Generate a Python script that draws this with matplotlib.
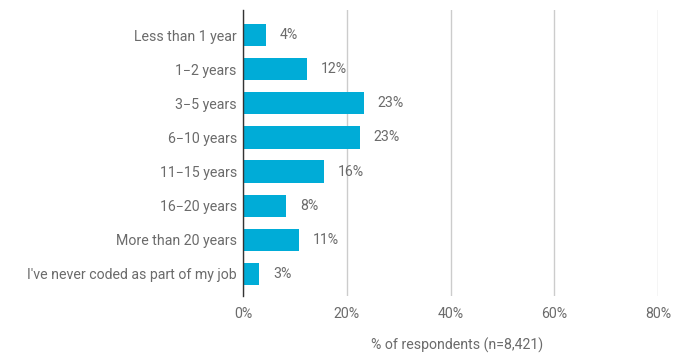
import matplotlib
matplotlib.use("Agg")
import matplotlib.pyplot as plt

categories = ["Less than 1 year", "1\u22122 years", "3\u22125 years", "6\u221210 years",
              "11\u221215 years", "16\u221220 years", "More than 20 years",
              "I've never coded as part of my job"]
values = [4.4, 12.3, 23.3, 22.5, 15.6, 8.3, 10.8, 3.1]
labels = ["4%", "12%", "23%", "23%", "16%", "8%", "11%", "3%"]
xticks = [0, 20, 40, 60, 80]
xticklabels = ["0%", "20%", "40%", "60%", "80%"]

plt.rcParams['font.family'] = ['Roboto', 'DejaVu Sans']
gray = "#6b6b6b"
fs = 10.2

fig = plt.figure(figsize=(6.93, 3.61), dpi=100)
ax = fig.add_axes([243/693, 1 - 296/361, (658 - 243)/693, (296 - 10)/361])

n = len(categories)
ypos = list(range(n))
ax.barh(ypos, values, height=0.65, color="#00ACD7", zorder=3)
for y, v, t in zip(ypos, values, labels):
    ax.annotate(t, (v, y), xytext=(14, 0), textcoords="offset pixels",
                va="center", ha="left", fontsize=fs, color=gray)

ax.set_xlim(0, 80)
ax.set_ylim(n - 1 + 0.65, -0.74)
ax.set_yticks(ypos)
ax.set_yticklabels(categories, fontsize=fs, color=gray)
ax.set_xticks(xticks)
ax.set_xticklabels(xticklabels, fontsize=fs, color=gray)
ax.tick_params(axis="both", length=0)
ax.tick_params(axis="y", pad=4.5)
ax.tick_params(axis="x", pad=8)
ax.grid(axis="x", color="#cccccc", linewidth=1, zorder=0)
for s in ["top", "right", "bottom"]:
    ax.spines[s].set_visible(False)
ax.spines["left"].set_color("#333333")
ax.spines["left"].set_linewidth(1)
ax.spines["left"].set_zorder(4)
ax.set_xlabel("% of respondents (n=8,421)", fontsize=fs, color=gray)
ax.xaxis.set_label_coords((457 - 243) / 415, -(345 - 296) / 286)
ax.xaxis.label.set_va("center")

fig.savefig("out.png", dpi=100)
